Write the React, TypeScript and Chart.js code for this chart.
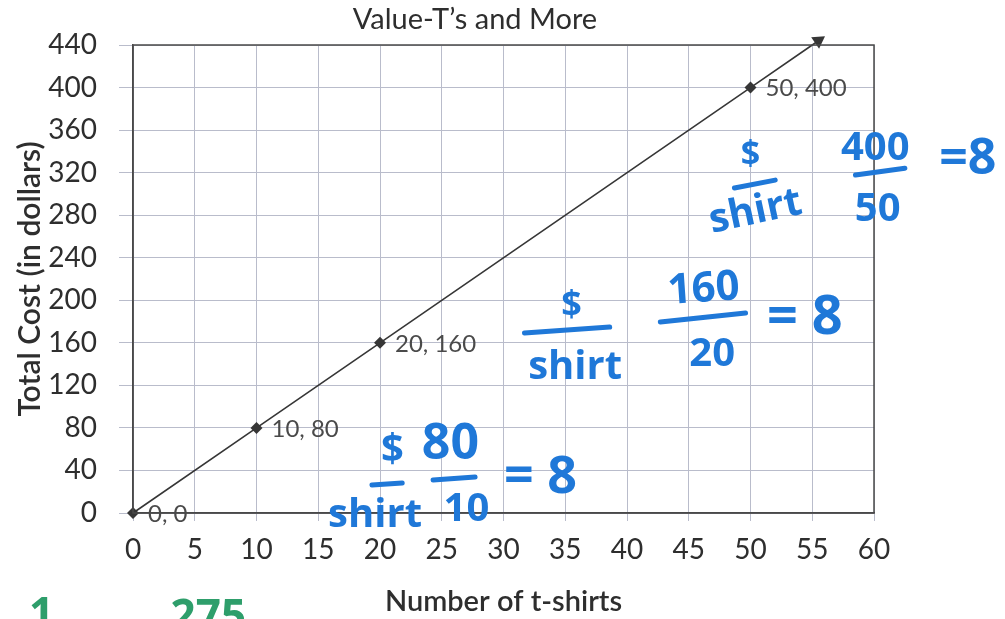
import React, { useEffect, useRef } from "react";
import { Chart, registerables } from "chart.js";

Chart.register(...registerables);

// ---------- data ----------
const TITLE = "Value-T’s and More";
const X_TITLE = "Number of t-shirts";
const Y_TITLE = "Total Cost (in dollars)";

const shirts = [0, 10, 20, 50];
const costs = [0, 80, 160, 400];
const arrowTip = { x: 55.5, y: 444 };

const X_MIN = 0;
const X_MAX = 60;
const X_STEP = 5;
const Y_MIN = 0;
const Y_MAX = 440;
const Y_STEP = 40;

const pointLabels = shirts.map((s, i) => `${s}, ${costs[i]}`);

// handwritten notes on the sheet, anchored in data units
const noteTexts = ["$", "80", "shirt", "10", "= 8", "$", "shirt", "160", "20", "= 8", "$", "shirt", "400", "50", "=8", "1", "275"];
const noteX = [21.0, 25.7, 19.6, 27.0, 33.0, 35.5, 35.8, 46.2, 46.9, 54.4, 50.0, 50.4, 60.1, 60.3, 67.6, -7.4, 6.1];
const noteY = [59, 64, -2, 3, 33, 195, 137, 210, 149, 183, 336, 283, 343, 285, 332, -97, -99];
// fraction bars of the notes: [x1, y1, x2, y2] in data units
const noteBars = [
  [19.35, 26.3, 21.8, 28.2],
  [24.3, 31, 27.7, 33.8],
  [31.7, 169.2, 38.6, 174.8],
  [42.7, 179.5, 49.6, 188],
  [48.7, 305.5, 52.0, 313],
  [58.5, 317.7, 62.5, 324.2],
];

// ---------- styles ----------
const FONT = "Lato, 'Open Sans', sans-serif";
const HAND = "'Open Sans', 'Noto Sans', sans-serif";
const BLUE = "#1f78d8";
const GREEN = "#2e9e6b";
const noteSize = [40, 50, 40, 40, 52, 36, 40, 42, 40, 54, 34, 40, 40, 40, 50, 44, 44];
const noteRot = [0, 0, 0, 0, 0, 0, 0, -4, 0, 0, 0, -12, 0, 0, 0, 0, 0];
const noteColor = noteTexts.map((_, i) => (i >= 15 ? GREEN : BLUE));
const INK = "#363636";
const GRID = "#b9bccb";
const FRAME = "#4a4a4a";
const TEXT = "#2e2e2e";

const sheetPlugin = {
  id: "sheet",
  afterDatasetsDraw(chart: any) {
    const { ctx, scales } = chart;
    const xs = scales.x;
    const ys = scales.y;
    ctx.save();
    ctx.font = `24px ${FONT}`;
    ctx.fillStyle = "#4a4a4a";
    ctx.textAlign = "left";
    ctx.textBaseline = "middle";
    shirts.forEach((s, i) => {
      ctx.fillText(pointLabels[i], xs.getPixelForValue(s) + 15, ys.getPixelForValue(costs[i]) + 1);
    });
    ctx.restore();
  },
  afterDraw(chart: any) {
    const { ctx, scales, chartArea } = chart;
    const xs = scales.x;
    const ys = scales.y;
    ctx.save();
    // frame top/right
    ctx.strokeStyle = FRAME;
    ctx.lineWidth = 1.5;
    ctx.strokeRect(chartArea.left, chartArea.top, chartArea.right - chartArea.left, chartArea.bottom - chartArea.top);
    // title
    ctx.font = `29px ${FONT}`;
    ctx.fillStyle = TEXT;
    ctx.textAlign = "center";
    ctx.textBaseline = "middle";
    ctx.fillText(TITLE, 475, 20);
    // handwritten notes
    ctx.lineCap = "round";
    noteBars.forEach(([x1, y1, x2, y2]) => {
      ctx.strokeStyle = BLUE;
      ctx.lineWidth = 5;
      ctx.beginPath();
      ctx.moveTo(xs.getPixelForValue(x1), ys.getPixelForValue(y1));
      ctx.lineTo(xs.getPixelForValue(x2), ys.getPixelForValue(y2));
      ctx.stroke();
    });
    noteTexts.forEach((t, i) => {
      ctx.save();
      ctx.translate(xs.getPixelForValue(noteX[i]), ys.getPixelForValue(noteY[i]));
      ctx.rotate((noteRot[i] * Math.PI) / 180);
      ctx.font = `bold ${noteSize[i]}px ${HAND}`;
      ctx.fillStyle = noteColor[i];
      ctx.textAlign = "center";
      ctx.textBaseline = "middle";
      ctx.fillText(t, 0, 0);
      ctx.restore();
    });
    ctx.restore();
  },
};

export default function App() {
  const ref = useRef<HTMLCanvasElement>(null);
  useEffect(() => {
    document.body.style.margin = "0";
    const last = shirts.length;
    const chart = new Chart(ref.current!, {
      type: "scatter",
      data: {
        datasets: [
          {
            data: [...shirts.map((x, i) => ({ x, y: costs[i] })), arrowTip],
            showLine: true,
            clip: false,
            borderColor: INK,
            borderWidth: 1.6,
            backgroundColor: INK,
            pointBackgroundColor: INK,
            pointBorderColor: INK,
            pointBorderWidth: 0,
            pointStyle: (c: any) => (c.dataIndex === last ? "triangle" : "rectRot"),
            pointRadius: (c: any) => (c.dataIndex === last ? 8 : 6),
            pointRotation: (c: any) => {
              if (c.dataIndex !== last) return 0;
              const xs = c.chart.scales.x;
              const ys = c.chart.scales.y;
              if (!xs || !ys) return 55;
              const dx = xs.getPixelForValue(arrowTip.x) - xs.getPixelForValue(shirts[last - 1]);
              const dy = ys.getPixelForValue(arrowTip.y) - ys.getPixelForValue(costs[last - 1]);
              const a = (Math.atan2(dy, dx) * 180) / Math.PI;
              return isFinite(a) ? a + 90 : 55;
            },
          } as any,
        ],
      },
      options: {
        animation: false,
        responsive: false,
        layout: { padding: { left: 12, right: 131, top: 45, bottom: 0 } },
        plugins: { legend: { display: false }, tooltip: { enabled: false }, title: { display: false } },
        scales: {
          x: {
            type: "linear",
            min: X_MIN,
            max: X_MAX,
            afterFit: (s: any) => {
              s.height = 106;
            },
            ticks: { stepSize: X_STEP, autoSkip: false, maxRotation: 0, color: TEXT, padding: 12, font: { size: 28, family: FONT } },
            grid: { color: GRID, lineWidth: 1, tickLength: 8 },
            border: { color: FRAME, width: 1.5 },
            title: { display: true, text: X_TITLE, color: TEXT, font: { size: 29, weight: "600", family: FONT }, padding: { top: 0, bottom: 0 } },
          },
          y: {
            type: "linear",
            min: Y_MIN,
            max: Y_MAX,
            afterFit: (s: any) => {
              s.width = 121;
            },
            ticks: { stepSize: Y_STEP, color: TEXT, padding: 22, font: { size: 28, family: FONT } },
            grid: { color: GRID, lineWidth: 1, tickLength: 14 },
            border: { color: FRAME, width: 1.5 },
            title: { display: true, text: Y_TITLE, color: TEXT, font: { size: 30, weight: "600", family: FONT }, padding: { top: 0, bottom: 0 } },
          },
        },
      },
      plugins: [sheetPlugin],
    });
    return () => chart.destroy();
  }, []);
  return (
    <div style={{ position: "absolute", left: 0, top: 0, width: 1005, height: 619, background: "#fff" }}>
      <canvas ref={ref} width={1005} height={619} style={{ display: "block" }} />
    </div>
  );
}
